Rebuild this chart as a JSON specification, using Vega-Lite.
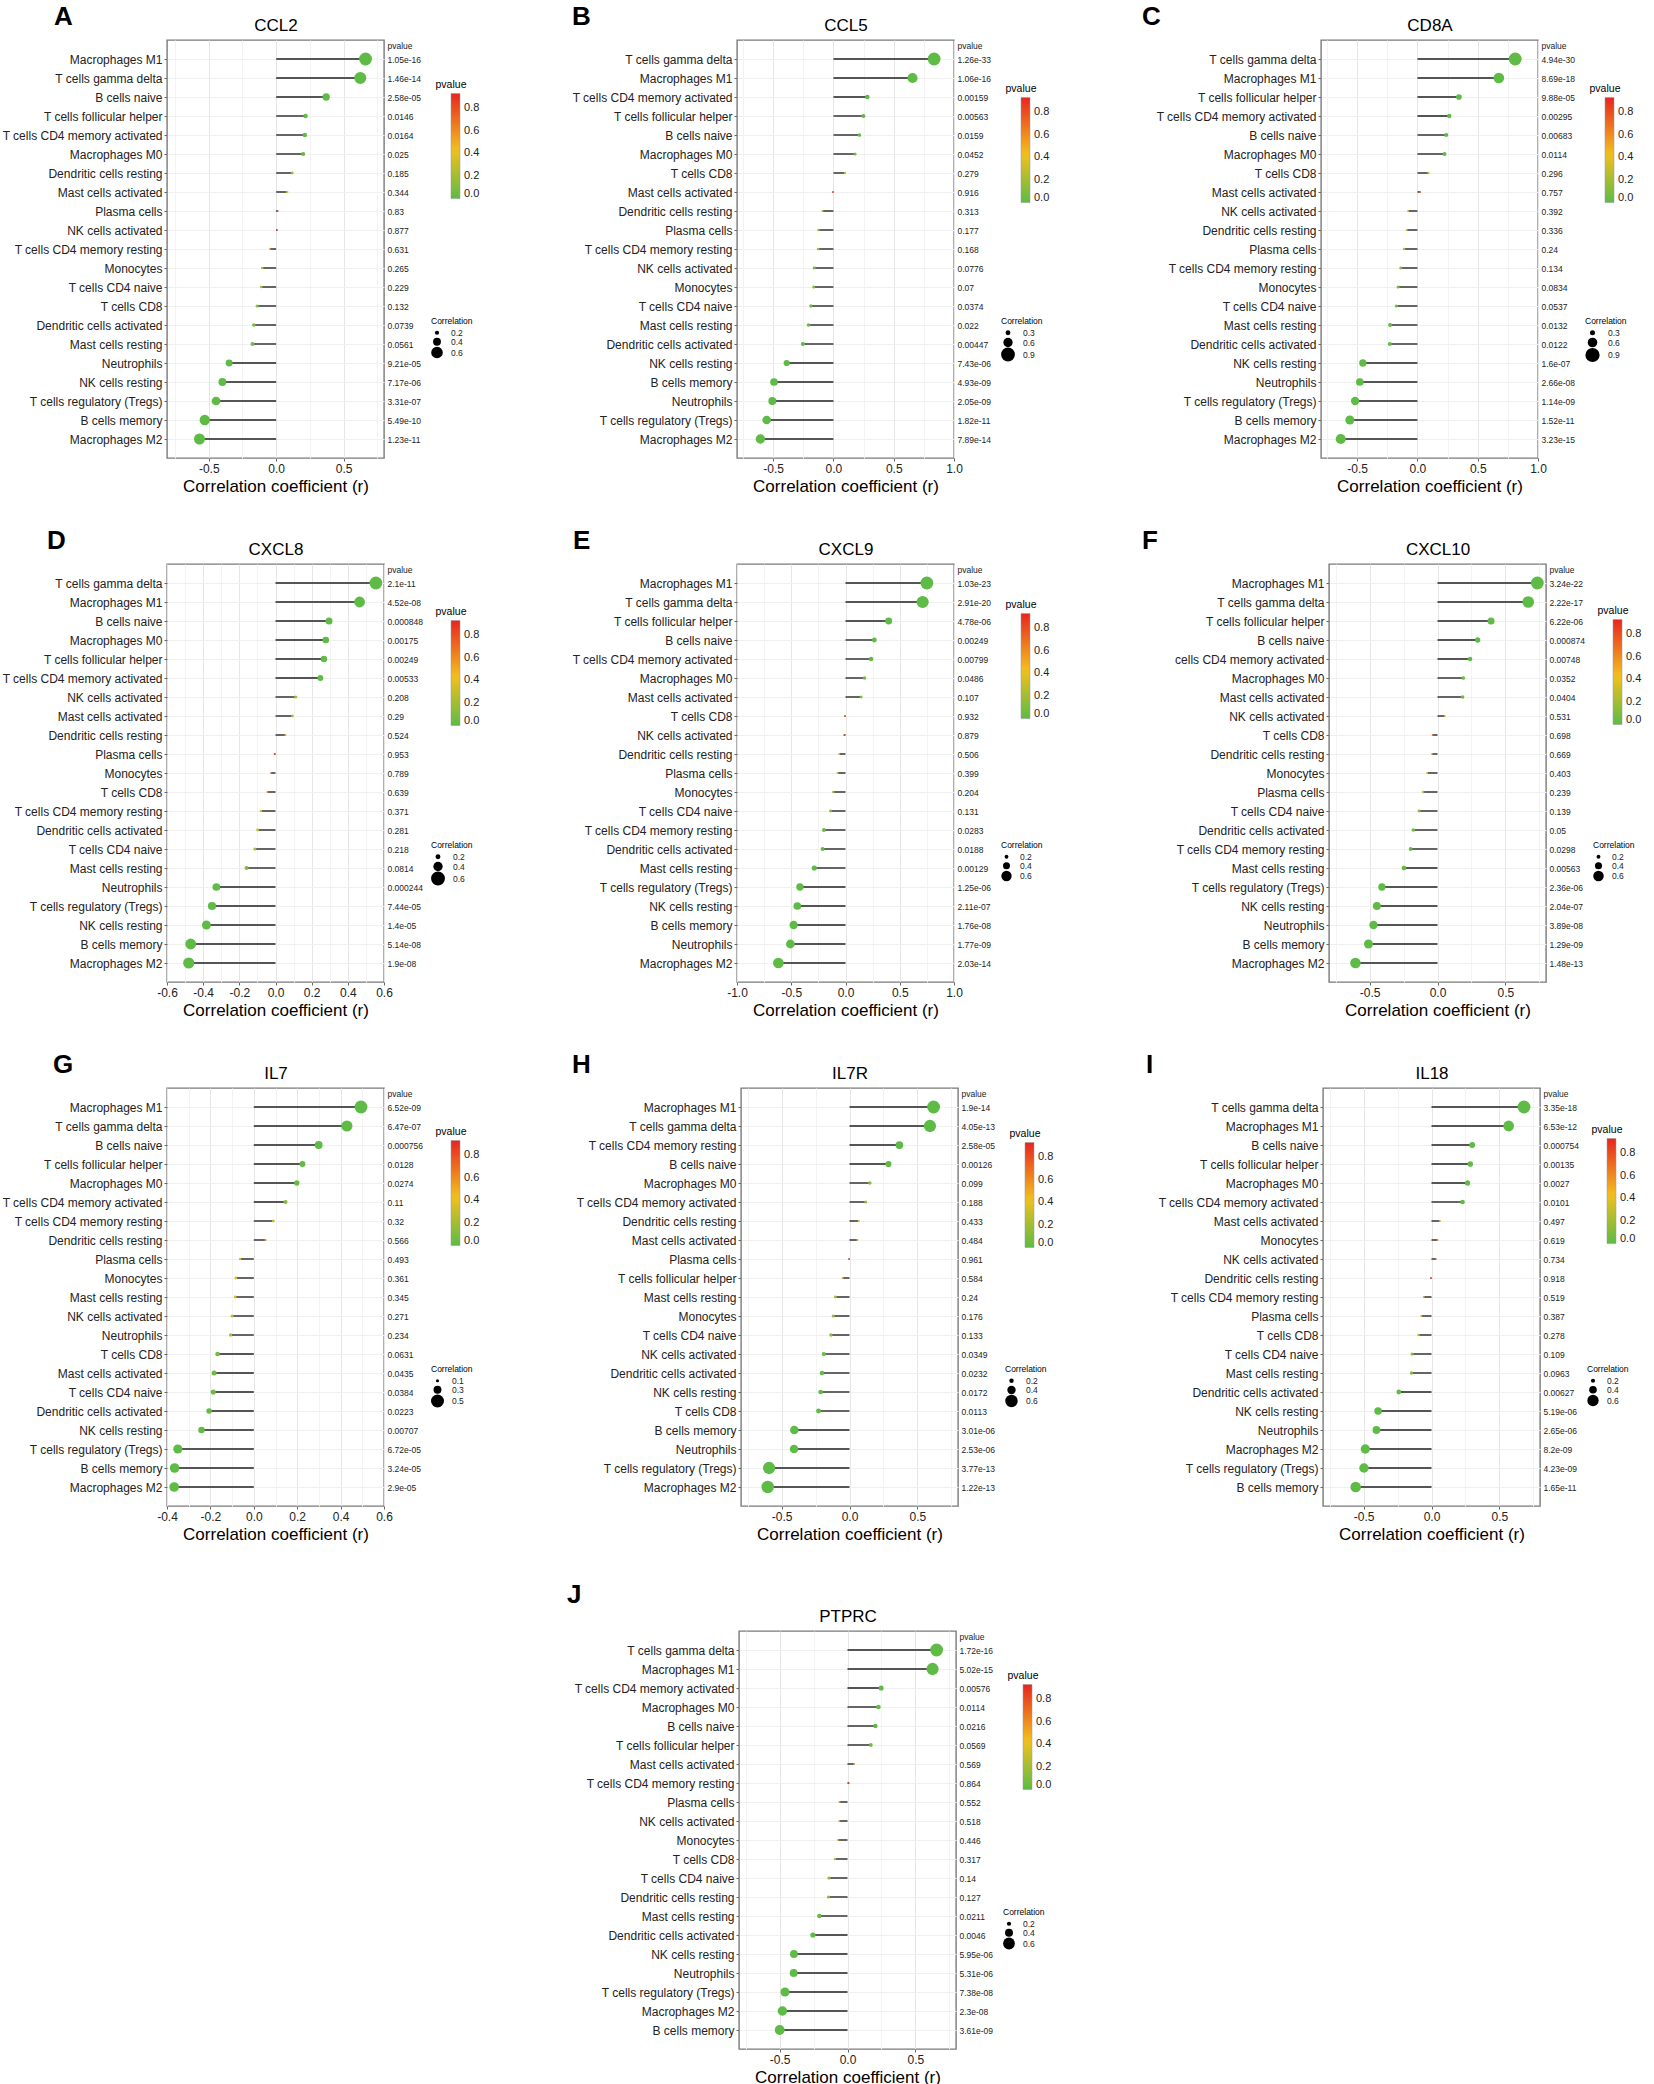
{
"$schema": "https://vega.github.io/schema/vega-lite/v6.json",
"padding": {"left": 1, "top": 3, "right": 5, "bottom": 5},
"datasets": {
"CCL2": [
{"cell":"Macrophages M1","r":0.663,"cor":0.663,"p":1.05e-16,"plab":"1.05e-16"},
{"cell":"T cells gamma delta","r":0.624,"cor":0.624,"p":1.46e-14,"plab":"1.46e-14"},
{"cell":"B cells naive","r":0.371,"cor":0.371,"p":2.58e-05,"plab":"2.58e-05"},
{"cell":"T cells follicular helper","r":0.218,"cor":0.218,"p":0.0146,"plab":"0.0146"},
{"cell":"T cells CD4 memory activated","r":0.213,"cor":0.213,"p":0.0164,"plab":"0.0164"},
{"cell":"Macrophages M0","r":0.200,"cor":0.200,"p":0.025,"plab":"0.025"},
{"cell":"Dendritic cells resting","r":0.119,"cor":0.119,"p":0.185,"plab":"0.185"},
{"cell":"Mast cells activated","r":0.082,"cor":0.082,"p":0.344,"plab":"0.344"},
{"cell":"Plasma cells","r":0.012,"cor":0.012,"p":0.83,"plab":"0.83"},
{"cell":"NK cells activated","r":0.007,"cor":0.007,"p":0.877,"plab":"0.877"},
{"cell":"T cells CD4 memory resting","r":-0.045,"cor":0.045,"p":0.631,"plab":"0.631"},
{"cell":"Monocytes","r":-0.104,"cor":0.104,"p":0.265,"plab":"0.265"},
{"cell":"T cells CD4 naive","r":-0.111,"cor":0.111,"p":0.229,"plab":"0.229"},
{"cell":"T cells CD8","r":-0.141,"cor":0.141,"p":0.132,"plab":"0.132"},
{"cell":"Dendritic cells activated","r":-0.166,"cor":0.166,"p":0.0739,"plab":"0.0739"},
{"cell":"Mast cells resting","r":-0.176,"cor":0.176,"p":0.0561,"plab":"0.0561"},
{"cell":"Neutrophils","r":-0.349,"cor":0.349,"p":9.21e-05,"plab":"9.21e-05"},
{"cell":"NK cells resting","r":-0.399,"cor":0.399,"p":7.17e-06,"plab":"7.17e-06"},
{"cell":"T cells regulatory (Tregs)","r":-0.446,"cor":0.446,"p":3.31e-07,"plab":"3.31e-07"},
{"cell":"B cells memory","r":-0.530,"cor":0.530,"p":5.49e-10,"plab":"5.49e-10"},
{"cell":"Macrophages M2","r":-0.569,"cor":0.569,"p":1.23e-11,"plab":"1.23e-11"}
],
"CCL5": [
{"cell":"T cells gamma delta","r":0.835,"cor":0.835,"p":1.26e-33,"plab":"1.26e-33"},
{"cell":"Macrophages M1","r":0.656,"cor":0.656,"p":1.06e-16,"plab":"1.06e-16"},
{"cell":"T cells CD4 memory activated","r":0.281,"cor":0.281,"p":0.00159,"plab":"0.00159"},
{"cell":"T cells follicular helper","r":0.248,"cor":0.248,"p":0.00563,"plab":"0.00563"},
{"cell":"B cells naive","r":0.215,"cor":0.215,"p":0.0159,"plab":"0.0159"},
{"cell":"Macrophages M0","r":0.179,"cor":0.179,"p":0.0452,"plab":"0.0452"},
{"cell":"T cells CD8","r":0.096,"cor":0.096,"p":0.279,"plab":"0.279"},
{"cell":"Mast cells activated","r":-0.005,"cor":0.005,"p":0.916,"plab":"0.916"},
{"cell":"Dendritic cells resting","r":-0.091,"cor":0.091,"p":0.313,"plab":"0.313"},
{"cell":"Plasma cells","r":-0.124,"cor":0.124,"p":0.177,"plab":"0.177"},
{"cell":"T cells CD4 memory resting","r":-0.127,"cor":0.127,"p":0.168,"plab":"0.168"},
{"cell":"NK cells activated","r":-0.160,"cor":0.160,"p":0.0776,"plab":"0.0776"},
{"cell":"Monocytes","r":-0.163,"cor":0.163,"p":0.07,"plab":"0.07"},
{"cell":"T cells CD4 naive","r":-0.187,"cor":0.187,"p":0.0374,"plab":"0.0374"},
{"cell":"Mast cells resting","r":-0.207,"cor":0.207,"p":0.022,"plab":"0.022"},
{"cell":"Dendritic cells activated","r":-0.253,"cor":0.253,"p":0.00447,"plab":"0.00447"},
{"cell":"NK cells resting","r":-0.388,"cor":0.388,"p":7.43e-06,"plab":"7.43e-06"},
{"cell":"B cells memory","r":-0.493,"cor":0.493,"p":4.93e-09,"plab":"4.93e-09"},
{"cell":"Neutrophils","r":-0.507,"cor":0.507,"p":2.05e-09,"plab":"2.05e-09"},
{"cell":"T cells regulatory (Tregs)","r":-0.554,"cor":0.554,"p":1.82e-11,"plab":"1.82e-11"},
{"cell":"Macrophages M2","r":-0.606,"cor":0.606,"p":7.89e-14,"plab":"7.89e-14"}
],
"CD8A": [
{"cell":"T cells gamma delta","r":0.811,"cor":0.811,"p":4.94e-30,"plab":"4.94e-30"},
{"cell":"Macrophages M1","r":0.675,"cor":0.675,"p":8.69e-18,"plab":"8.69e-18"},
{"cell":"T cells follicular helper","r":0.344,"cor":0.344,"p":9.88e-05,"plab":"9.88e-05"},
{"cell":"T cells CD4 memory activated","r":0.264,"cor":0.264,"p":0.00295,"plab":"0.00295"},
{"cell":"B cells naive","r":0.239,"cor":0.239,"p":0.00683,"plab":"0.00683"},
{"cell":"Macrophages M0","r":0.225,"cor":0.225,"p":0.0114,"plab":"0.0114"},
{"cell":"T cells CD8","r":0.092,"cor":0.092,"p":0.296,"plab":"0.296"},
{"cell":"Mast cells activated","r":0.022,"cor":0.022,"p":0.757,"plab":"0.757"},
{"cell":"NK cells activated","r":-0.078,"cor":0.078,"p":0.392,"plab":"0.392"},
{"cell":"Dendritic cells resting","r":-0.089,"cor":0.089,"p":0.336,"plab":"0.336"},
{"cell":"Plasma cells","r":-0.111,"cor":0.111,"p":0.24,"plab":"0.24"},
{"cell":"T cells CD4 memory resting","r":-0.139,"cor":0.139,"p":0.134,"plab":"0.134"},
{"cell":"Monocytes","r":-0.161,"cor":0.161,"p":0.0834,"plab":"0.0834"},
{"cell":"T cells CD4 naive","r":-0.175,"cor":0.175,"p":0.0537,"plab":"0.0537"},
{"cell":"Mast cells resting","r":-0.227,"cor":0.227,"p":0.0132,"plab":"0.0132"},
{"cell":"Dendritic cells activated","r":-0.229,"cor":0.229,"p":0.0122,"plab":"0.0122"},
{"cell":"NK cells resting","r":-0.453,"cor":0.453,"p":1.6e-07,"plab":"1.6e-07"},
{"cell":"Neutrophils","r":-0.478,"cor":0.478,"p":2.66e-08,"plab":"2.66e-08"},
{"cell":"T cells regulatory (Tregs)","r":-0.517,"cor":0.517,"p":1.14e-09,"plab":"1.14e-09"},
{"cell":"B cells memory","r":-0.561,"cor":0.561,"p":1.52e-11,"plab":"1.52e-11"},
{"cell":"Macrophages M2","r":-0.636,"cor":0.636,"p":3.23e-15,"plab":"3.23e-15"}
],
"CXCL8": [
{"cell":"T cells gamma delta","r":0.555,"cor":0.555,"p":2.1e-11,"plab":"2.1e-11"},
{"cell":"Macrophages M1","r":0.465,"cor":0.465,"p":4.52e-08,"plab":"4.52e-08"},
{"cell":"B cells naive","r":0.296,"cor":0.296,"p":0.000848,"plab":"0.000848"},
{"cell":"Macrophages M0","r":0.278,"cor":0.278,"p":0.00175,"plab":"0.00175"},
{"cell":"T cells follicular helper","r":0.268,"cor":0.268,"p":0.00249,"plab":"0.00249"},
{"cell":"T cells CD4 memory activated","r":0.248,"cor":0.248,"p":0.00533,"plab":"0.00533"},
{"cell":"NK cells activated","r":0.112,"cor":0.112,"p":0.208,"plab":"0.208"},
{"cell":"Mast cells activated","r":0.094,"cor":0.094,"p":0.29,"plab":"0.29"},
{"cell":"Dendritic cells resting","r":0.055,"cor":0.055,"p":0.524,"plab":"0.524"},
{"cell":"Plasma cells","r":-0.005,"cor":0.005,"p":0.953,"plab":"0.953"},
{"cell":"Monocytes","r":-0.024,"cor":0.024,"p":0.789,"plab":"0.789"},
{"cell":"T cells CD8","r":-0.044,"cor":0.044,"p":0.639,"plab":"0.639"},
{"cell":"T cells CD4 memory resting","r":-0.081,"cor":0.081,"p":0.371,"plab":"0.371"},
{"cell":"Dendritic cells activated","r":-0.099,"cor":0.099,"p":0.281,"plab":"0.281"},
{"cell":"T cells CD4 naive","r":-0.114,"cor":0.114,"p":0.218,"plab":"0.218"},
{"cell":"Mast cells resting","r":-0.160,"cor":0.160,"p":0.0814,"plab":"0.0814"},
{"cell":"Neutrophils","r":-0.327,"cor":0.327,"p":0.000244,"plab":"0.000244"},
{"cell":"T cells regulatory (Tregs)","r":-0.351,"cor":0.351,"p":7.44e-05,"plab":"7.44e-05"},
{"cell":"NK cells resting","r":-0.382,"cor":0.382,"p":1.4e-05,"plab":"1.4e-05"},
{"cell":"B cells memory","r":-0.469,"cor":0.469,"p":5.14e-08,"plab":"5.14e-08"},
{"cell":"Macrophages M2","r":-0.480,"cor":0.480,"p":1.9e-08,"plab":"1.9e-08"}
],
"CXCL9": [
{"cell":"Macrophages M1","r":0.750,"cor":0.750,"p":1.03e-23,"plab":"1.03e-23"},
{"cell":"T cells gamma delta","r":0.711,"cor":0.711,"p":2.91e-20,"plab":"2.91e-20"},
{"cell":"T cells follicular helper","r":0.398,"cor":0.398,"p":4.78e-06,"plab":"4.78e-06"},
{"cell":"B cells naive","r":0.266,"cor":0.266,"p":0.00249,"plab":"0.00249"},
{"cell":"T cells CD4 memory activated","r":0.236,"cor":0.236,"p":0.00799,"plab":"0.00799"},
{"cell":"Macrophages M0","r":0.175,"cor":0.175,"p":0.0486,"plab":"0.0486"},
{"cell":"Mast cells activated","r":0.144,"cor":0.144,"p":0.107,"plab":"0.107"},
{"cell":"T cells CD8","r":-0.006,"cor":0.006,"p":0.932,"plab":"0.932"},
{"cell":"NK cells activated","r":-0.012,"cor":0.012,"p":0.879,"plab":"0.879"},
{"cell":"Dendritic cells resting","r":-0.058,"cor":0.058,"p":0.506,"plab":"0.506"},
{"cell":"Plasma cells","r":-0.074,"cor":0.074,"p":0.399,"plab":"0.399"},
{"cell":"Monocytes","r":-0.113,"cor":0.113,"p":0.204,"plab":"0.204"},
{"cell":"T cells CD4 naive","r":-0.138,"cor":0.138,"p":0.131,"plab":"0.131"},
{"cell":"T cells CD4 memory resting","r":-0.199,"cor":0.199,"p":0.0283,"plab":"0.0283"},
{"cell":"Dendritic cells activated","r":-0.211,"cor":0.211,"p":0.0188,"plab":"0.0188"},
{"cell":"Mast cells resting","r":-0.288,"cor":0.288,"p":0.00129,"plab":"0.00129"},
{"cell":"T cells regulatory (Tregs)","r":-0.420,"cor":0.420,"p":1.25e-06,"plab":"1.25e-06"},
{"cell":"NK cells resting","r":-0.444,"cor":0.444,"p":2.11e-07,"plab":"2.11e-07"},
{"cell":"B cells memory","r":-0.478,"cor":0.478,"p":1.76e-08,"plab":"1.76e-08"},
{"cell":"Neutrophils","r":-0.508,"cor":0.508,"p":1.77e-09,"plab":"1.77e-09"},
{"cell":"Macrophages M2","r":-0.619,"cor":0.619,"p":2.03e-14,"plab":"2.03e-14"}
],
"CXCL10": [
{"cell":"Macrophages M1","r":0.736,"cor":0.736,"p":3.24e-22,"plab":"3.24e-22"},
{"cell":"T cells gamma delta","r":0.669,"cor":0.669,"p":2.22e-17,"plab":"2.22e-17"},
{"cell":"T cells follicular helper","r":0.395,"cor":0.395,"p":6.22e-06,"plab":"6.22e-06"},
{"cell":"B cells naive","r":0.296,"cor":0.296,"p":0.000874,"plab":"0.000874"},
{"cell":"cells CD4 memory activated","r":0.240,"cor":0.240,"p":0.00748,"plab":"0.00748"},
{"cell":"Macrophages M0","r":0.190,"cor":0.190,"p":0.0352,"plab":"0.0352"},
{"cell":"Mast cells activated","r":0.185,"cor":0.185,"p":0.0404,"plab":"0.0404"},
{"cell":"NK cells activated","r":0.054,"cor":0.054,"p":0.531,"plab":"0.531"},
{"cell":"T cells CD8","r":-0.036,"cor":0.036,"p":0.698,"plab":"0.698"},
{"cell":"Dendritic cells resting","r":-0.039,"cor":0.039,"p":0.669,"plab":"0.669"},
{"cell":"Monocytes","r":-0.077,"cor":0.077,"p":0.403,"plab":"0.403"},
{"cell":"Plasma cells","r":-0.106,"cor":0.106,"p":0.239,"plab":"0.239"},
{"cell":"T cells CD4 naive","r":-0.136,"cor":0.136,"p":0.139,"plab":"0.139"},
{"cell":"Dendritic cells activated","r":-0.178,"cor":0.178,"p":0.05,"plab":"0.05"},
{"cell":"T cells CD4 memory resting","r":-0.198,"cor":0.198,"p":0.0298,"plab":"0.0298"},
{"cell":"Mast cells resting","r":-0.247,"cor":0.247,"p":0.00563,"plab":"0.00563"},
{"cell":"T cells regulatory (Tregs)","r":-0.410,"cor":0.410,"p":2.36e-06,"plab":"2.36e-06"},
{"cell":"NK cells resting","r":-0.447,"cor":0.447,"p":2.04e-07,"plab":"2.04e-07"},
{"cell":"Neutrophils","r":-0.472,"cor":0.472,"p":3.89e-08,"plab":"3.89e-08"},
{"cell":"B cells memory","r":-0.509,"cor":0.509,"p":1.29e-09,"plab":"1.29e-09"},
{"cell":"Macrophages M2","r":-0.605,"cor":0.605,"p":1.48e-13,"plab":"1.48e-13"}
],
"IL7": [
{"cell":"Macrophages M1","r":0.494,"cor":0.494,"p":6.52e-09,"plab":"6.52e-09"},
{"cell":"T cells gamma delta","r":0.429,"cor":0.429,"p":6.47e-07,"plab":"6.47e-07"},
{"cell":"B cells naive","r":0.299,"cor":0.299,"p":0.000756,"plab":"0.000756"},
{"cell":"T cells follicular helper","r":0.224,"cor":0.224,"p":0.0128,"plab":"0.0128"},
{"cell":"Macrophages M0","r":0.198,"cor":0.198,"p":0.0274,"plab":"0.0274"},
{"cell":"T cells CD4 memory activated","r":0.146,"cor":0.146,"p":0.11,"plab":"0.11"},
{"cell":"T cells CD4 memory resting","r":0.090,"cor":0.090,"p":0.32,"plab":"0.32"},
{"cell":"Dendritic cells resting","r":0.054,"cor":0.054,"p":0.566,"plab":"0.566"},
{"cell":"Plasma cells","r":-0.063,"cor":0.063,"p":0.493,"plab":"0.493"},
{"cell":"Monocytes","r":-0.083,"cor":0.083,"p":0.361,"plab":"0.361"},
{"cell":"Mast cells resting","r":-0.086,"cor":0.086,"p":0.345,"plab":"0.345"},
{"cell":"NK cells activated","r":-0.100,"cor":0.100,"p":0.271,"plab":"0.271"},
{"cell":"Neutrophils","r":-0.107,"cor":0.107,"p":0.234,"plab":"0.234"},
{"cell":"T cells CD8","r":-0.167,"cor":0.167,"p":0.0631,"plab":"0.0631"},
{"cell":"Mast cells activated","r":-0.183,"cor":0.183,"p":0.0435,"plab":"0.0435"},
{"cell":"T cells CD4 naive","r":-0.187,"cor":0.187,"p":0.0384,"plab":"0.0384"},
{"cell":"Dendritic cells activated","r":-0.206,"cor":0.206,"p":0.0223,"plab":"0.0223"},
{"cell":"NK cells resting","r":-0.241,"cor":0.241,"p":0.00707,"plab":"0.00707"},
{"cell":"T cells regulatory (Tregs)","r":-0.350,"cor":0.350,"p":6.72e-05,"plab":"6.72e-05"},
{"cell":"B cells memory","r":-0.365,"cor":0.365,"p":3.24e-05,"plab":"3.24e-05"},
{"cell":"Macrophages M2","r":-0.367,"cor":0.367,"p":2.9e-05,"plab":"2.9e-05"}
],
"IL7R": [
{"cell":"Macrophages M1","r":0.620,"cor":0.620,"p":1.9e-14,"plab":"1.9e-14"},
{"cell":"T cells gamma delta","r":0.593,"cor":0.593,"p":4.05e-13,"plab":"4.05e-13"},
{"cell":"T cells CD4 memory resting","r":0.368,"cor":0.368,"p":2.58e-05,"plab":"2.58e-05"},
{"cell":"B cells naive","r":0.287,"cor":0.287,"p":0.00126,"plab":"0.00126"},
{"cell":"Macrophages M0","r":0.150,"cor":0.150,"p":0.099,"plab":"0.099"},
{"cell":"T cells CD4 memory activated","r":0.120,"cor":0.120,"p":0.188,"plab":"0.188"},
{"cell":"Dendritic cells resting","r":0.069,"cor":0.069,"p":0.433,"plab":"0.433"},
{"cell":"Mast cells activated","r":0.059,"cor":0.059,"p":0.484,"plab":"0.484"},
{"cell":"Plasma cells","r":-0.004,"cor":0.004,"p":0.961,"plab":"0.961"},
{"cell":"T cells follicular helper","r":-0.049,"cor":0.049,"p":0.584,"plab":"0.584"},
{"cell":"Mast cells resting","r":-0.105,"cor":0.105,"p":0.24,"plab":"0.24"},
{"cell":"Monocytes","r":-0.120,"cor":0.120,"p":0.176,"plab":"0.176"},
{"cell":"T cells CD4 naive","r":-0.137,"cor":0.137,"p":0.133,"plab":"0.133"},
{"cell":"NK cells activated","r":-0.189,"cor":0.189,"p":0.0349,"plab":"0.0349"},
{"cell":"Dendritic cells activated","r":-0.203,"cor":0.203,"p":0.0232,"plab":"0.0232"},
{"cell":"NK cells resting","r":-0.213,"cor":0.213,"p":0.0172,"plab":"0.0172"},
{"cell":"T cells CD8","r":-0.228,"cor":0.228,"p":0.0113,"plab":"0.0113"},
{"cell":"B cells memory","r":-0.407,"cor":0.407,"p":3.01e-06,"plab":"3.01e-06"},
{"cell":"Neutrophils","r":-0.409,"cor":0.409,"p":2.53e-06,"plab":"2.53e-06"},
{"cell":"T cells regulatory (Tregs)","r":-0.593,"cor":0.593,"p":3.77e-13,"plab":"3.77e-13"},
{"cell":"Macrophages M2","r":-0.603,"cor":0.603,"p":1.22e-13,"plab":"1.22e-13"}
],
"IL18": [
{"cell":"T cells gamma delta","r":0.682,"cor":0.682,"p":3.35e-18,"plab":"3.35e-18"},
{"cell":"Macrophages M1","r":0.569,"cor":0.569,"p":6.53e-12,"plab":"6.53e-12"},
{"cell":"B cells naive","r":0.300,"cor":0.300,"p":0.000754,"plab":"0.000754"},
{"cell":"T cells follicular helper","r":0.286,"cor":0.286,"p":0.00135,"plab":"0.00135"},
{"cell":"Macrophages M0","r":0.266,"cor":0.266,"p":0.0027,"plab":"0.0027"},
{"cell":"T cells CD4 memory activated","r":0.229,"cor":0.229,"p":0.0101,"plab":"0.0101"},
{"cell":"Mast cells activated","r":0.062,"cor":0.062,"p":0.497,"plab":"0.497"},
{"cell":"Monocytes","r":0.044,"cor":0.044,"p":0.619,"plab":"0.619"},
{"cell":"NK cells activated","r":0.032,"cor":0.032,"p":0.734,"plab":"0.734"},
{"cell":"Dendritic cells resting","r":-0.005,"cor":0.005,"p":0.918,"plab":"0.918"},
{"cell":"T cells CD4 memory resting","r":-0.057,"cor":0.057,"p":0.519,"plab":"0.519"},
{"cell":"Plasma cells","r":-0.076,"cor":0.076,"p":0.387,"plab":"0.387"},
{"cell":"T cells CD8","r":-0.096,"cor":0.096,"p":0.278,"plab":"0.278"},
{"cell":"T cells CD4 naive","r":-0.143,"cor":0.143,"p":0.109,"plab":"0.109"},
{"cell":"Mast cells resting","r":-0.148,"cor":0.148,"p":0.0963,"plab":"0.0963"},
{"cell":"Dendritic cells activated","r":-0.241,"cor":0.241,"p":0.00627,"plab":"0.00627"},
{"cell":"NK cells resting","r":-0.394,"cor":0.394,"p":5.19e-06,"plab":"5.19e-06"},
{"cell":"Neutrophils","r":-0.406,"cor":0.406,"p":2.65e-06,"plab":"2.65e-06"},
{"cell":"Macrophages M2","r":-0.488,"cor":0.488,"p":8.2e-09,"plab":"8.2e-09"},
{"cell":"T cells regulatory (Tregs)","r":-0.498,"cor":0.498,"p":4.23e-09,"plab":"4.23e-09"},
{"cell":"B cells memory","r":-0.559,"cor":0.559,"p":1.65e-11,"plab":"1.65e-11"}
],
"PTPRC": [
{"cell":"T cells gamma delta","r":0.657,"cor":0.657,"p":1.72e-16,"plab":"1.72e-16"},
{"cell":"Macrophages M1","r":0.627,"cor":0.627,"p":5.02e-15,"plab":"5.02e-15"},
{"cell":"T cells CD4 memory activated","r":0.248,"cor":0.248,"p":0.00576,"plab":"0.00576"},
{"cell":"Macrophages M0","r":0.228,"cor":0.228,"p":0.0114,"plab":"0.0114"},
{"cell":"B cells naive","r":0.206,"cor":0.206,"p":0.0216,"plab":"0.0216"},
{"cell":"T cells follicular helper","r":0.172,"cor":0.172,"p":0.0569,"plab":"0.0569"},
{"cell":"Mast cells activated","r":0.049,"cor":0.049,"p":0.569,"plab":"0.569"},
{"cell":"T cells CD4 memory resting","r":0.010,"cor":0.010,"p":0.864,"plab":"0.864"},
{"cell":"Plasma cells","r":-0.059,"cor":0.059,"p":0.552,"plab":"0.552"},
{"cell":"NK cells activated","r":-0.061,"cor":0.061,"p":0.518,"plab":"0.518"},
{"cell":"Monocytes","r":-0.071,"cor":0.071,"p":0.446,"plab":"0.446"},
{"cell":"T cells CD8","r":-0.093,"cor":0.093,"p":0.317,"plab":"0.317"},
{"cell":"T cells CD4 naive","r":-0.137,"cor":0.137,"p":0.14,"plab":"0.14"},
{"cell":"Dendritic cells resting","r":-0.140,"cor":0.140,"p":0.127,"plab":"0.127"},
{"cell":"Mast cells resting","r":-0.208,"cor":0.208,"p":0.0211,"plab":"0.0211"},
{"cell":"Dendritic cells activated","r":-0.255,"cor":0.255,"p":0.0046,"plab":"0.0046"},
{"cell":"NK cells resting","r":-0.395,"cor":0.395,"p":5.95e-06,"plab":"5.95e-06"},
{"cell":"Neutrophils","r":-0.397,"cor":0.397,"p":5.31e-06,"plab":"5.31e-06"},
{"cell":"T cells regulatory (Tregs)","r":-0.461,"cor":0.461,"p":7.38e-08,"plab":"7.38e-08"},
{"cell":"Macrophages M2","r":-0.480,"cor":0.480,"p":2.3e-08,"plab":"2.3e-08"},
{"cell":"B cells memory","r":-0.500,"cor":0.500,"p":3.61e-09,"plab":"3.61e-09"}
]
},
"vconcat": [
{"vconcat": [
{"hconcat": [
{"width": 217, "height": 418, "data": {"name": "CCL2"}, "title": {"text": "A", "dx": -113, "dy": 18},
 "layer": [
  {"mark": {"type": "rule", "color": "#555555", "strokeWidth": 1.8},
   "encoding": {
    "y": {"field": "cell", "type": "nominal", "sort": null, "scale": {"type": "point", "padding": 1.2}, "axis": {"title": null}},
    "x": {"field": "r", "type": "quantitative", "scale": {"domain": [-0.81, 0.8], "nice": false, "zero": false},
     "axis": {"title": "Correlation coefficient (r)", "values": [-0.75,-0.5,-0.25,0,0.25,0.5,0.75],
      "labelExpr": "abs(datum.value*2-round(datum.value*2))<0.001 ? replace(format(datum.value,'.1f'),'\u2212','-') : ''",
      "tickOpacity": {"condition": {"test": "abs(datum.value*2-round(datum.value*2))<0.001", "value": 1}, "value": 0},
      "gridColor": {"condition": {"test": "abs(datum.value*2-round(datum.value*2))<0.001", "value": "#E6E6E6"}, "value": "#F3F3F3"}}},
    "x2": {"datum": 0}}},
  {"mark": {"type": "circle", "opacity": 1},
   "encoding": {
    "y": {"field": "cell", "type": "nominal", "sort": null, "scale": {"type": "point", "padding": 1.2}, "axis": null},
    "x": {"field": "r", "type": "quantitative", "scale": {"domain": [-0.81, 0.8], "nice": false, "zero": false}, "axis": null},
    "color": {"field": "p", "type": "quantitative", "scale": {"domain": [0, 0.43, 0.93], "range": ["#5DBB46", "#F2C01C", "#E8251F"], "interpolate": "rgb"},
     "legend": {"title": "pvalue", "legendX": 269, "legendY": 40, "values": [0,0.2,0.4,0.6,0.8], "format": ".1f", "titleFontSize": 10.5, "labelFontSize": 11, "labelOffset": 4, "titleAnchor": "start", "titleAlign": "center", "titlePadding": 3, "direction": "vertical"}},
    "size": {"field": "cor", "type": "quantitative", "scale": {"type": "pow", "exponent": 2, "domain": [0, 0.663], "range": [3, 165]},
     "legend": {"title": "Correlation", "values": [0.2,0.4,0.6], "format": ".1f", "legendX": 264, "legendY": 277, "titleFontSize": 8.5, "labelFontSize": 8.5, "labelOffset": 8, "titlePadding": 3, "symbolType": "circle", "symbolFillColor": "#000", "symbolStrokeColor": "#000", "symbolStrokeWidth": 0, "rowPadding": 0, "symbolOpacity": 1}}}},
  {"mark": {"type": "point", "opacity": 0},
   "encoding": {
    "y": {"field": "plab", "type": "nominal", "sort": null, "scale": {"type": "point", "padding": 1.2}, "axis": {"orient": "right", "title": "pvalue"}},
    "x": {"field": "r", "type": "quantitative", "scale": {"domain": [-0.81, 0.8], "nice": false, "zero": false}, "axis": {"orient": "top", "title": "CCL2"}}}}
 ],
 "resolve": {"scale": {"x": "independent", "y": "independent"}}},
{"width": 217, "height": 418, "data": {"name": "CCL5"}, "title": {"text": "B", "dx": -165, "dy": 18},
 "layer": [
  {"mark": {"type": "rule", "color": "#555555", "strokeWidth": 1.8},
   "encoding": {
    "y": {"field": "cell", "type": "nominal", "sort": null, "scale": {"type": "point", "padding": 1.2}, "axis": {"title": null}},
    "x": {"field": "r", "type": "quantitative", "scale": {"domain": [-0.8, 1.0], "nice": false, "zero": false},
     "axis": {"title": "Correlation coefficient (r)", "values": [-0.75,-0.5,-0.25,0,0.25,0.5,0.75,1],
      "labelExpr": "abs(datum.value*2-round(datum.value*2))<0.001 ? replace(format(datum.value,'.1f'),'\u2212','-') : ''",
      "tickOpacity": {"condition": {"test": "abs(datum.value*2-round(datum.value*2))<0.001", "value": 1}, "value": 0},
      "gridColor": {"condition": {"test": "abs(datum.value*2-round(datum.value*2))<0.001", "value": "#E6E6E6"}, "value": "#F3F3F3"}}},
    "x2": {"datum": 0}}},
  {"mark": {"type": "circle", "opacity": 1},
   "encoding": {
    "y": {"field": "cell", "type": "nominal", "sort": null, "scale": {"type": "point", "padding": 1.2}, "axis": null},
    "x": {"field": "r", "type": "quantitative", "scale": {"domain": [-0.8, 1.0], "nice": false, "zero": false}, "axis": null},
    "color": {"field": "p", "type": "quantitative", "scale": {"domain": [0, 0.43, 0.93], "range": ["#5DBB46", "#F2C01C", "#E8251F"], "interpolate": "rgb"},
     "legend": {"title": "pvalue", "legendX": 269, "legendY": 44, "values": [0,0.2,0.4,0.6,0.8], "format": ".1f", "titleFontSize": 10.5, "labelFontSize": 11, "labelOffset": 4, "titleAnchor": "start", "titleAlign": "center", "titlePadding": 3, "direction": "vertical"}},
    "size": {"field": "cor", "type": "quantitative", "scale": {"type": "pow", "exponent": 2, "domain": [0, 0.835], "range": [3, 165]},
     "legend": {"title": "Correlation", "values": [0.3,0.6,0.9], "format": ".1f", "legendX": 264, "legendY": 277, "titleFontSize": 8.5, "labelFontSize": 8.5, "labelOffset": 8, "titlePadding": 3, "symbolType": "circle", "symbolFillColor": "#000", "symbolStrokeColor": "#000", "symbolStrokeWidth": 0, "rowPadding": 0, "symbolOpacity": 1}}}},
  {"mark": {"type": "point", "opacity": 0},
   "encoding": {
    "y": {"field": "plab", "type": "nominal", "sort": null, "scale": {"type": "point", "padding": 1.2}, "axis": {"orient": "right", "title": "pvalue"}},
    "x": {"field": "r", "type": "quantitative", "scale": {"domain": [-0.8, 1.0], "nice": false, "zero": false}, "axis": {"orient": "top", "title": "CCL5"}}}}
 ],
 "resolve": {"scale": {"x": "independent", "y": "independent"}}},
{"width": 217, "height": 418, "data": {"name": "CD8A"}, "title": {"text": "C", "dx": -179, "dy": 18},
 "layer": [
  {"mark": {"type": "rule", "color": "#555555", "strokeWidth": 1.8},
   "encoding": {
    "y": {"field": "cell", "type": "nominal", "sort": null, "scale": {"type": "point", "padding": 1.2}, "axis": {"title": null}},
    "x": {"field": "r", "type": "quantitative", "scale": {"domain": [-0.8, 1.0], "nice": false, "zero": false},
     "axis": {"title": "Correlation coefficient (r)", "values": [-0.75,-0.5,-0.25,0,0.25,0.5,0.75,1],
      "labelExpr": "abs(datum.value*2-round(datum.value*2))<0.001 ? replace(format(datum.value,'.1f'),'\u2212','-') : ''",
      "tickOpacity": {"condition": {"test": "abs(datum.value*2-round(datum.value*2))<0.001", "value": 1}, "value": 0},
      "gridColor": {"condition": {"test": "abs(datum.value*2-round(datum.value*2))<0.001", "value": "#E6E6E6"}, "value": "#F3F3F3"}}},
    "x2": {"datum": 0}}},
  {"mark": {"type": "circle", "opacity": 1},
   "encoding": {
    "y": {"field": "cell", "type": "nominal", "sort": null, "scale": {"type": "point", "padding": 1.2}, "axis": null},
    "x": {"field": "r", "type": "quantitative", "scale": {"domain": [-0.8, 1.0], "nice": false, "zero": false}, "axis": null},
    "color": {"field": "p", "type": "quantitative", "scale": {"domain": [0, 0.43, 0.93], "range": ["#5DBB46", "#F2C01C", "#E8251F"], "interpolate": "rgb"},
     "legend": {"title": "pvalue", "legendX": 269, "legendY": 44, "values": [0,0.2,0.4,0.6,0.8], "format": ".1f", "titleFontSize": 10.5, "labelFontSize": 11, "labelOffset": 4, "titleAnchor": "start", "titleAlign": "center", "titlePadding": 3, "direction": "vertical"}},
    "size": {"field": "cor", "type": "quantitative", "scale": {"type": "pow", "exponent": 2, "domain": [0, 0.811], "range": [3, 165]},
     "legend": {"title": "Correlation", "values": [0.3,0.6,0.9], "format": ".1f", "legendX": 264, "legendY": 277, "titleFontSize": 8.5, "labelFontSize": 8.5, "labelOffset": 8, "titlePadding": 3, "symbolType": "circle", "symbolFillColor": "#000", "symbolStrokeColor": "#000", "symbolStrokeWidth": 0, "rowPadding": 0, "symbolOpacity": 1}}}},
  {"mark": {"type": "point", "opacity": 0},
   "encoding": {
    "y": {"field": "plab", "type": "nominal", "sort": null, "scale": {"type": "point", "padding": 1.2}, "axis": {"orient": "right", "title": "pvalue"}},
    "x": {"field": "r", "type": "quantitative", "scale": {"domain": [-0.8, 1.0], "nice": false, "zero": false}, "axis": {"orient": "top", "title": "CD8A"}}}}
 ],
 "resolve": {"scale": {"x": "independent", "y": "independent"}}}
], "spacing": 90, "resolve": {"scale": {"x": "independent", "y": "independent", "color": "independent", "size": "independent"}}},
{"hconcat": [
{"width": 217, "height": 418, "data": {"name": "CXCL8"}, "title": {"text": "D", "dx": -120, "dy": 18},
 "layer": [
  {"mark": {"type": "rule", "color": "#555555", "strokeWidth": 1.8},
   "encoding": {
    "y": {"field": "cell", "type": "nominal", "sort": null, "scale": {"type": "point", "padding": 1.2}, "axis": {"title": null}},
    "x": {"field": "r", "type": "quantitative", "scale": {"domain": [-0.6, 0.6], "nice": false, "zero": false},
     "axis": {"title": "Correlation coefficient (r)", "values": [-0.6,-0.5,-0.4,-0.3,-0.2,-0.1,0,0.1,0.2,0.3,0.4,0.5,0.6],
      "labelExpr": "abs(datum.value*5-round(datum.value*5))<0.001 ? replace(format(datum.value,'.1f'),'\u2212','-') : ''",
      "tickOpacity": {"condition": {"test": "abs(datum.value*5-round(datum.value*5))<0.001", "value": 1}, "value": 0},
      "gridColor": {"condition": {"test": "abs(datum.value*5-round(datum.value*5))<0.001", "value": "#E6E6E6"}, "value": "#F3F3F3"}}},
    "x2": {"datum": 0}}},
  {"mark": {"type": "circle", "opacity": 1},
   "encoding": {
    "y": {"field": "cell", "type": "nominal", "sort": null, "scale": {"type": "point", "padding": 1.2}, "axis": null},
    "x": {"field": "r", "type": "quantitative", "scale": {"domain": [-0.6, 0.6], "nice": false, "zero": false}, "axis": null},
    "color": {"field": "p", "type": "quantitative", "scale": {"domain": [0, 0.43, 0.93], "range": ["#5DBB46", "#F2C01C", "#E8251F"], "interpolate": "rgb"},
     "legend": {"title": "pvalue", "legendX": 269, "legendY": 43, "values": [0,0.2,0.4,0.6,0.8], "format": ".1f", "titleFontSize": 10.5, "labelFontSize": 11, "labelOffset": 4, "titleAnchor": "start", "titleAlign": "center", "titlePadding": 3, "direction": "vertical"}},
    "size": {"field": "cor", "type": "quantitative", "scale": {"type": "pow", "exponent": 2, "domain": [0, 0.555], "range": [3, 165]},
     "legend": {"title": "Correlation", "values": [0.2,0.4,0.6], "format": ".1f", "legendX": 264, "legendY": 277, "titleFontSize": 8.5, "labelFontSize": 8.5, "labelOffset": 8, "titlePadding": 3, "symbolType": "circle", "symbolFillColor": "#000", "symbolStrokeColor": "#000", "symbolStrokeWidth": 0, "rowPadding": 0, "symbolOpacity": 1}}}},
  {"mark": {"type": "point", "opacity": 0},
   "encoding": {
    "y": {"field": "plab", "type": "nominal", "sort": null, "scale": {"type": "point", "padding": 1.2}, "axis": {"orient": "right", "title": "pvalue"}},
    "x": {"field": "r", "type": "quantitative", "scale": {"domain": [-0.6, 0.6], "nice": false, "zero": false}, "axis": {"orient": "top", "title": "CXCL8"}}}}
 ],
 "resolve": {"scale": {"x": "independent", "y": "independent"}}},
{"width": 217, "height": 418, "data": {"name": "CXCL9"}, "title": {"text": "E", "dx": -164, "dy": 18},
 "layer": [
  {"mark": {"type": "rule", "color": "#555555", "strokeWidth": 1.8},
   "encoding": {
    "y": {"field": "cell", "type": "nominal", "sort": null, "scale": {"type": "point", "padding": 1.2}, "axis": {"title": null}},
    "x": {"field": "r", "type": "quantitative", "scale": {"domain": [-1.0, 1.0], "nice": false, "zero": false},
     "axis": {"title": "Correlation coefficient (r)", "values": [-1,-0.75,-0.5,-0.25,0,0.25,0.5,0.75,1],
      "labelExpr": "abs(datum.value*2-round(datum.value*2))<0.001 ? replace(format(datum.value,'.1f'),'\u2212','-') : ''",
      "tickOpacity": {"condition": {"test": "abs(datum.value*2-round(datum.value*2))<0.001", "value": 1}, "value": 0},
      "gridColor": {"condition": {"test": "abs(datum.value*2-round(datum.value*2))<0.001", "value": "#E6E6E6"}, "value": "#F3F3F3"}}},
    "x2": {"datum": 0}}},
  {"mark": {"type": "circle", "opacity": 1},
   "encoding": {
    "y": {"field": "cell", "type": "nominal", "sort": null, "scale": {"type": "point", "padding": 1.2}, "axis": null},
    "x": {"field": "r", "type": "quantitative", "scale": {"domain": [-1.0, 1.0], "nice": false, "zero": false}, "axis": null},
    "color": {"field": "p", "type": "quantitative", "scale": {"domain": [0, 0.43, 0.93], "range": ["#5DBB46", "#F2C01C", "#E8251F"], "interpolate": "rgb"},
     "legend": {"title": "pvalue", "legendX": 269, "legendY": 36, "values": [0,0.2,0.4,0.6,0.8], "format": ".1f", "titleFontSize": 10.5, "labelFontSize": 11, "labelOffset": 4, "titleAnchor": "start", "titleAlign": "center", "titlePadding": 3, "direction": "vertical"}},
    "size": {"field": "cor", "type": "quantitative", "scale": {"type": "pow", "exponent": 2, "domain": [0, 0.75], "range": [3, 165]},
     "legend": {"title": "Correlation", "values": [0.2,0.4,0.6], "format": ".1f", "legendX": 264, "legendY": 277, "titleFontSize": 8.5, "labelFontSize": 8.5, "labelOffset": 8, "titlePadding": 3, "symbolType": "circle", "symbolFillColor": "#000", "symbolStrokeColor": "#000", "symbolStrokeWidth": 0, "rowPadding": 0, "symbolOpacity": 1}}}},
  {"mark": {"type": "point", "opacity": 0},
   "encoding": {
    "y": {"field": "plab", "type": "nominal", "sort": null, "scale": {"type": "point", "padding": 1.2}, "axis": {"orient": "right", "title": "pvalue"}},
    "x": {"field": "r", "type": "quantitative", "scale": {"domain": [-1.0, 1.0], "nice": false, "zero": false}, "axis": {"orient": "top", "title": "CXCL9"}}}}
 ],
 "resolve": {"scale": {"x": "independent", "y": "independent"}}},
{"width": 217, "height": 418, "data": {"name": "CXCL10"}, "title": {"text": "F", "dx": -187, "dy": 18},
 "layer": [
  {"mark": {"type": "rule", "color": "#555555", "strokeWidth": 1.8},
   "encoding": {
    "y": {"field": "cell", "type": "nominal", "sort": null, "scale": {"type": "point", "padding": 1.2}, "axis": {"title": null}},
    "x": {"field": "r", "type": "quantitative", "scale": {"domain": [-0.8, 0.8], "nice": false, "zero": false},
     "axis": {"title": "Correlation coefficient (r)", "values": [-0.75,-0.5,-0.25,0,0.25,0.5,0.75],
      "labelExpr": "abs(datum.value*2-round(datum.value*2))<0.001 ? replace(format(datum.value,'.1f'),'\u2212','-') : ''",
      "tickOpacity": {"condition": {"test": "abs(datum.value*2-round(datum.value*2))<0.001", "value": 1}, "value": 0},
      "gridColor": {"condition": {"test": "abs(datum.value*2-round(datum.value*2))<0.001", "value": "#E6E6E6"}, "value": "#F3F3F3"}}},
    "x2": {"datum": 0}}},
  {"mark": {"type": "circle", "opacity": 1},
   "encoding": {
    "y": {"field": "cell", "type": "nominal", "sort": null, "scale": {"type": "point", "padding": 1.2}, "axis": null},
    "x": {"field": "r", "type": "quantitative", "scale": {"domain": [-0.8, 0.8], "nice": false, "zero": false}, "axis": null},
    "color": {"field": "p", "type": "quantitative", "scale": {"domain": [0, 0.43, 0.93], "range": ["#5DBB46", "#F2C01C", "#E8251F"], "interpolate": "rgb"},
     "legend": {"title": "pvalue", "legendX": 269, "legendY": 42, "values": [0,0.2,0.4,0.6,0.8], "format": ".1f", "titleFontSize": 10.5, "labelFontSize": 11, "labelOffset": 4, "titleAnchor": "start", "titleAlign": "center", "titlePadding": 3, "direction": "vertical"}},
    "size": {"field": "cor", "type": "quantitative", "scale": {"type": "pow", "exponent": 2, "domain": [0, 0.736], "range": [3, 165]},
     "legend": {"title": "Correlation", "values": [0.2,0.4,0.6], "format": ".1f", "legendX": 264, "legendY": 277, "titleFontSize": 8.5, "labelFontSize": 8.5, "labelOffset": 8, "titlePadding": 3, "symbolType": "circle", "symbolFillColor": "#000", "symbolStrokeColor": "#000", "symbolStrokeWidth": 0, "rowPadding": 0, "symbolOpacity": 1}}}},
  {"mark": {"type": "point", "opacity": 0},
   "encoding": {
    "y": {"field": "plab", "type": "nominal", "sort": null, "scale": {"type": "point", "padding": 1.2}, "axis": {"orient": "right", "title": "pvalue"}},
    "x": {"field": "r", "type": "quantitative", "scale": {"domain": [-0.8, 0.8], "nice": false, "zero": false}, "axis": {"orient": "top", "title": "CXCL10"}}}}
 ],
 "resolve": {"scale": {"x": "independent", "y": "independent"}}}
], "spacing": 90, "resolve": {"scale": {"x": "independent", "y": "independent", "color": "independent", "size": "independent"}}},
{"hconcat": [
{"width": 217, "height": 418, "data": {"name": "IL7"}, "title": {"text": "G", "dx": -114, "dy": 18},
 "layer": [
  {"mark": {"type": "rule", "color": "#555555", "strokeWidth": 1.8},
   "encoding": {
    "y": {"field": "cell", "type": "nominal", "sort": null, "scale": {"type": "point", "padding": 1.2}, "axis": {"title": null}},
    "x": {"field": "r", "type": "quantitative", "scale": {"domain": [-0.4, 0.6], "nice": false, "zero": false},
     "axis": {"title": "Correlation coefficient (r)", "values": [-0.4,-0.3,-0.2,-0.1,0,0.1,0.2,0.3,0.4,0.5,0.6],
      "labelExpr": "abs(datum.value*5-round(datum.value*5))<0.001 ? replace(format(datum.value,'.1f'),'\u2212','-') : ''",
      "tickOpacity": {"condition": {"test": "abs(datum.value*5-round(datum.value*5))<0.001", "value": 1}, "value": 0},
      "gridColor": {"condition": {"test": "abs(datum.value*5-round(datum.value*5))<0.001", "value": "#E6E6E6"}, "value": "#F3F3F3"}}},
    "x2": {"datum": 0}}},
  {"mark": {"type": "circle", "opacity": 1},
   "encoding": {
    "y": {"field": "cell", "type": "nominal", "sort": null, "scale": {"type": "point", "padding": 1.2}, "axis": null},
    "x": {"field": "r", "type": "quantitative", "scale": {"domain": [-0.4, 0.6], "nice": false, "zero": false}, "axis": null},
    "color": {"field": "p", "type": "quantitative", "scale": {"domain": [0, 0.43, 0.93], "range": ["#5DBB46", "#F2C01C", "#E8251F"], "interpolate": "rgb"},
     "legend": {"title": "pvalue", "legendX": 269, "legendY": 39, "values": [0,0.2,0.4,0.6,0.8], "format": ".1f", "titleFontSize": 10.5, "labelFontSize": 11, "labelOffset": 4, "titleAnchor": "start", "titleAlign": "center", "titlePadding": 3, "direction": "vertical"}},
    "size": {"field": "cor", "type": "quantitative", "scale": {"type": "pow", "exponent": 2, "domain": [0, 0.494], "range": [3, 165]},
     "legend": {"title": "Correlation", "values": [0.1,0.3,0.5], "format": ".1f", "legendX": 264, "legendY": 277, "titleFontSize": 8.5, "labelFontSize": 8.5, "labelOffset": 8, "titlePadding": 3, "symbolType": "circle", "symbolFillColor": "#000", "symbolStrokeColor": "#000", "symbolStrokeWidth": 0, "rowPadding": 0, "symbolOpacity": 1}}}},
  {"mark": {"type": "point", "opacity": 0},
   "encoding": {
    "y": {"field": "plab", "type": "nominal", "sort": null, "scale": {"type": "point", "padding": 1.2}, "axis": {"orient": "right", "title": "pvalue"}},
    "x": {"field": "r", "type": "quantitative", "scale": {"domain": [-0.4, 0.6], "nice": false, "zero": false}, "axis": {"orient": "top", "title": "IL7"}}}}
 ],
 "resolve": {"scale": {"x": "independent", "y": "independent"}}},
{"width": 217, "height": 418, "data": {"name": "IL7R"}, "title": {"text": "H", "dx": -169, "dy": 18},
 "layer": [
  {"mark": {"type": "rule", "color": "#555555", "strokeWidth": 1.8},
   "encoding": {
    "y": {"field": "cell", "type": "nominal", "sort": null, "scale": {"type": "point", "padding": 1.2}, "axis": {"title": null}},
    "x": {"field": "r", "type": "quantitative", "scale": {"domain": [-0.8, 0.8], "nice": false, "zero": false},
     "axis": {"title": "Correlation coefficient (r)", "values": [-0.75,-0.5,-0.25,0,0.25,0.5,0.75],
      "labelExpr": "abs(datum.value*2-round(datum.value*2))<0.001 ? replace(format(datum.value,'.1f'),'\u2212','-') : ''",
      "tickOpacity": {"condition": {"test": "abs(datum.value*2-round(datum.value*2))<0.001", "value": 1}, "value": 0},
      "gridColor": {"condition": {"test": "abs(datum.value*2-round(datum.value*2))<0.001", "value": "#E6E6E6"}, "value": "#F3F3F3"}}},
    "x2": {"datum": 0}}},
  {"mark": {"type": "circle", "opacity": 1},
   "encoding": {
    "y": {"field": "cell", "type": "nominal", "sort": null, "scale": {"type": "point", "padding": 1.2}, "axis": null},
    "x": {"field": "r", "type": "quantitative", "scale": {"domain": [-0.8, 0.8], "nice": false, "zero": false}, "axis": null},
    "color": {"field": "p", "type": "quantitative", "scale": {"domain": [0, 0.43, 0.93], "range": ["#5DBB46", "#F2C01C", "#E8251F"], "interpolate": "rgb"},
     "legend": {"title": "pvalue", "legendX": 269, "legendY": 41, "values": [0,0.2,0.4,0.6,0.8], "format": ".1f", "titleFontSize": 10.5, "labelFontSize": 11, "labelOffset": 4, "titleAnchor": "start", "titleAlign": "center", "titlePadding": 3, "direction": "vertical"}},
    "size": {"field": "cor", "type": "quantitative", "scale": {"type": "pow", "exponent": 2, "domain": [0, 0.62], "range": [3, 165]},
     "legend": {"title": "Correlation", "values": [0.2,0.4,0.6], "format": ".1f", "legendX": 264, "legendY": 277, "titleFontSize": 8.5, "labelFontSize": 8.5, "labelOffset": 8, "titlePadding": 3, "symbolType": "circle", "symbolFillColor": "#000", "symbolStrokeColor": "#000", "symbolStrokeWidth": 0, "rowPadding": 0, "symbolOpacity": 1}}}},
  {"mark": {"type": "point", "opacity": 0},
   "encoding": {
    "y": {"field": "plab", "type": "nominal", "sort": null, "scale": {"type": "point", "padding": 1.2}, "axis": {"orient": "right", "title": "pvalue"}},
    "x": {"field": "r", "type": "quantitative", "scale": {"domain": [-0.8, 0.8], "nice": false, "zero": false}, "axis": {"orient": "top", "title": "IL7R"}}}}
 ],
 "resolve": {"scale": {"x": "independent", "y": "independent"}}},
{"width": 217, "height": 418, "data": {"name": "IL18"}, "title": {"text": "I", "dx": -177, "dy": 18},
 "layer": [
  {"mark": {"type": "rule", "color": "#555555", "strokeWidth": 1.8},
   "encoding": {
    "y": {"field": "cell", "type": "nominal", "sort": null, "scale": {"type": "point", "padding": 1.2}, "axis": {"title": null}},
    "x": {"field": "r", "type": "quantitative", "scale": {"domain": [-0.8, 0.8], "nice": false, "zero": false},
     "axis": {"title": "Correlation coefficient (r)", "values": [-0.75,-0.5,-0.25,0,0.25,0.5,0.75],
      "labelExpr": "abs(datum.value*2-round(datum.value*2))<0.001 ? replace(format(datum.value,'.1f'),'\u2212','-') : ''",
      "tickOpacity": {"condition": {"test": "abs(datum.value*2-round(datum.value*2))<0.001", "value": 1}, "value": 0},
      "gridColor": {"condition": {"test": "abs(datum.value*2-round(datum.value*2))<0.001", "value": "#E6E6E6"}, "value": "#F3F3F3"}}},
    "x2": {"datum": 0}}},
  {"mark": {"type": "circle", "opacity": 1},
   "encoding": {
    "y": {"field": "cell", "type": "nominal", "sort": null, "scale": {"type": "point", "padding": 1.2}, "axis": null},
    "x": {"field": "r", "type": "quantitative", "scale": {"domain": [-0.8, 0.8], "nice": false, "zero": false}, "axis": null},
    "color": {"field": "p", "type": "quantitative", "scale": {"domain": [0, 0.43, 0.93], "range": ["#5DBB46", "#F2C01C", "#E8251F"], "interpolate": "rgb"},
     "legend": {"title": "pvalue", "legendX": 269, "legendY": 37, "values": [0,0.2,0.4,0.6,0.8], "format": ".1f", "titleFontSize": 10.5, "labelFontSize": 11, "labelOffset": 4, "titleAnchor": "start", "titleAlign": "center", "titlePadding": 3, "direction": "vertical"}},
    "size": {"field": "cor", "type": "quantitative", "scale": {"type": "pow", "exponent": 2, "domain": [0, 0.682], "range": [3, 165]},
     "legend": {"title": "Correlation", "values": [0.2,0.4,0.6], "format": ".1f", "legendX": 264, "legendY": 277, "titleFontSize": 8.5, "labelFontSize": 8.5, "labelOffset": 8, "titlePadding": 3, "symbolType": "circle", "symbolFillColor": "#000", "symbolStrokeColor": "#000", "symbolStrokeWidth": 0, "rowPadding": 0, "symbolOpacity": 1}}}},
  {"mark": {"type": "point", "opacity": 0},
   "encoding": {
    "y": {"field": "plab", "type": "nominal", "sort": null, "scale": {"type": "point", "padding": 1.2}, "axis": {"orient": "right", "title": "pvalue"}},
    "x": {"field": "r", "type": "quantitative", "scale": {"domain": [-0.8, 0.8], "nice": false, "zero": false}, "axis": {"orient": "top", "title": "IL18"}}}}
 ],
 "resolve": {"scale": {"x": "independent", "y": "independent"}}}
], "spacing": 90, "resolve": {"scale": {"x": "independent", "y": "independent", "color": "independent", "size": "independent"}}}
], "spacing": 32, "resolve": {"scale": {"x": "independent", "y": "independent", "color": "independent", "size": "independent"}}},
{"hconcat": [
{"width": 379, "height": 10, "data": {"values": []}, "mark": {"type": "point"}, "encoding": {}, "view": {"stroke": null}},
{"width": 217, "height": 418, "data": {"name": "PTPRC"}, "title": {"text": "J", "dx": -172, "dy": 5},
 "layer": [
  {"mark": {"type": "rule", "color": "#555555", "strokeWidth": 1.8},
   "encoding": {
    "y": {"field": "cell", "type": "nominal", "sort": null, "scale": {"type": "point", "padding": 1.2}, "axis": {"title": null}},
    "x": {"field": "r", "type": "quantitative", "scale": {"domain": [-0.8, 0.8], "nice": false, "zero": false},
     "axis": {"title": "Correlation coefficient (r)", "values": [-0.75,-0.5,-0.25,0,0.25,0.5,0.75],
      "labelExpr": "abs(datum.value*2-round(datum.value*2))<0.001 ? replace(format(datum.value,'.1f'),'\u2212','-') : ''",
      "tickOpacity": {"condition": {"test": "abs(datum.value*2-round(datum.value*2))<0.001", "value": 1}, "value": 0},
      "gridColor": {"condition": {"test": "abs(datum.value*2-round(datum.value*2))<0.001", "value": "#E6E6E6"}, "value": "#F3F3F3"}}},
    "x2": {"datum": 0}}},
  {"mark": {"type": "circle", "opacity": 1},
   "encoding": {
    "y": {"field": "cell", "type": "nominal", "sort": null, "scale": {"type": "point", "padding": 1.2}, "axis": null},
    "x": {"field": "r", "type": "quantitative", "scale": {"domain": [-0.8, 0.8], "nice": false, "zero": false}, "axis": null},
    "color": {"field": "p", "type": "quantitative", "scale": {"domain": [0, 0.43, 0.93], "range": ["#5DBB46", "#F2C01C", "#E8251F"], "interpolate": "rgb"},
     "legend": {"title": "pvalue", "legendX": 269, "legendY": 40, "values": [0,0.2,0.4,0.6,0.8], "format": ".1f", "titleFontSize": 10.5, "labelFontSize": 11, "labelOffset": 4, "titleAnchor": "start", "titleAlign": "center", "titlePadding": 3, "direction": "vertical"}},
    "size": {"field": "cor", "type": "quantitative", "scale": {"type": "pow", "exponent": 2, "domain": [0, 0.657], "range": [3, 165]},
     "legend": {"title": "Correlation", "values": [0.2,0.4,0.6], "format": ".1f", "legendX": 264, "legendY": 277, "titleFontSize": 8.5, "labelFontSize": 8.5, "labelOffset": 8, "titlePadding": 3, "symbolType": "circle", "symbolFillColor": "#000", "symbolStrokeColor": "#000", "symbolStrokeWidth": 0, "rowPadding": 0, "symbolOpacity": 1}}}},
  {"mark": {"type": "point", "opacity": 0},
   "encoding": {
    "y": {"field": "plab", "type": "nominal", "sort": null, "scale": {"type": "point", "padding": 1.2}, "axis": {"orient": "right", "title": "pvalue"}},
    "x": {"field": "r", "type": "quantitative", "scale": {"domain": [-0.8, 0.8], "nice": false, "zero": false}, "axis": {"orient": "top", "title": "PTPRC"}}}}
 ],
 "resolve": {"scale": {"x": "independent", "y": "independent"}}}
], "spacing": 20, "resolve": {"scale": {"x": "independent", "y": "independent", "color": "independent", "size": "independent"}}}
],
"spacing": 38,
"resolve": {"scale": {"x": "independent", "y": "independent", "color": "independent", "size": "independent"}},
"config": {
 "font": "Liberation Sans",
 "background": "white",
 "view": {"stroke": "#7a7a7a", "strokeWidth": 1.4},
 "title": {"anchor": "start", "frame": "group", "fontSize": 26, "fontWeight": "bold", "color": "#000000", "offset": 0, "baseline": "alphabetic", "font": "Liberation Sans"},
 "axis": {"labelFont": "Liberation Sans", "titleFont": "Liberation Sans", "domain": false},
 "axisLeft": {"labelFontSize": 12, "labelColor": "#222222", "tickSize": 3, "tickColor": "#666666", "labelPadding": 2, "grid": true, "gridColor": "#F0F0F0", "labelLimit": 300},
 "axisBottom": {"labelFontSize": 12, "labelColor": "#222222", "tickSize": 3, "tickColor": "#666666", "labelPadding": 2, "titleFontSize": 17, "titleFontWeight": "normal", "titleColor": "#000000", "titlePadding": 4, "labelFlush": false, "labelOverlap": false, "grid": true},
 "axisTop": {"labels": false, "ticks": false, "domain": false, "grid": false, "titleFontSize": 17, "titleFontWeight": "normal", "titleColor": "#000000", "titlePadding": 6},
 "axisRight": {"ticks": false, "tickSize": 0, "domain": false, "grid": false, "labelFontSize": 8.5, "labelColor": "#222222", "labelPadding": 3, "titleAngle": 0, "titleAlign": "left", "titleBaseline": "middle", "titleX": 3, "titleY": 5, "titleFontSize": 8.5, "titleFontWeight": "normal", "titleColor": "#222222", "labelLimit": 100},
 "legend": {"orient": "none", "padding": 0, "titleFontWeight": "normal", "titleColor": "#000000", "labelColor": "#222222", "gradientLength": 105, "gradientThickness": 9, "gradientStrokeColor": "#999999", "gradientStrokeWidth": 0.5, "labelFont": "Liberation Sans", "titleFont": "Liberation Sans"}
}
}
